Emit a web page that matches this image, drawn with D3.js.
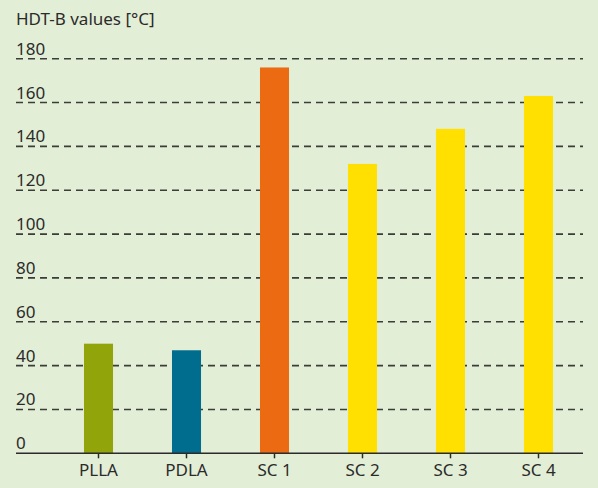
<!DOCTYPE html>
<html>
<head>
<meta charset="utf-8">
<script src="https://cdn.jsdelivr.net/npm/d3@7"></script>
<style>
  body { margin: 0; background: #e3eed6; }
  text { font-family: "Noto Sans", sans-serif; fill: #2b2b2b; }
</style>
</head>
<body>
<div id="chart"></div>
<script>
const categories = ["PLLA", "PDLA", "SC 1", "SC 2", "SC 3", "SC 4"];
const values = [50, 47, 176, 132, 148, 163];
const barColors = ["#91a409", "#006d8e", "#ec6b12", "#ffe000", "#ffe000", "#ffe000"];
const yTicks = [0, 20, 40, 60, 80, 100, 120, 140, 160, 180];
const yTitle = "HDT-B values [°C]";

const width = 598, height = 488;
const left = 16, right = 583, baseY = 453.3, topY = 58.7;

const svg = d3.select("#chart").append("svg")
    .attr("width", width)
    .attr("height", height);

svg.append("rect")
    .attr("width", width)
    .attr("height", height)
    .attr("fill", "#e3eed6");

const x = d3.scaleBand()
    .domain(categories)
    .range([54.5, 582.5])
    .paddingInner(0.67)
    .paddingOuter(0.335);

const y = d3.scaleLinear()
    .domain([0, 180])
    .range([baseY, topY]);

// gitter
svg.append("g").selectAll("line")
    .data(yTicks.filter(d => d > 0))
    .join("line")
    .attr("x1", left)
    .attr("x2", right)
    .attr("y1", d => y(d))
    .attr("y2", d => y(d))
    .attr("stroke", "#3a3d38")
    .attr("stroke-width", 1.6)
    .attr("stroke-dasharray", "7,5");

// tick labels sit above the lines
svg.append("g").selectAll("text")
    .data(yTicks)
    .join("text")
    .attr("x", left)
    .attr("y", d => y(d) - 4)
    .attr("font-size", 17)
    .text(d => d);

svg.append("text")
    .attr("x", left)
    .attr("y", 25)
    .attr("font-size", 17)
    .text(yTitle);

svg.append("g").selectAll("rect")
    .data(values)
    .join("rect")
    .attr("x", (d, i) => x(categories[i]))
    .attr("width", x.bandwidth())
    .attr("y", d => y(d))
    .attr("height", d => y(0) - y(d))
    .attr("fill", (d, i) => barColors[i]);

const xAxis = svg.append("g")
    .attr("transform", `translate(0,${baseY})`)
    .call(d3.axisBottom(x).tickSize(5).tickSizeOuter(0).tickPadding(6));
xAxis.select(".domain").remove();
xAxis.selectAll("line").attr("stroke", "#2b2b2b").attr("stroke-width", 1.5);
xAxis.selectAll("text")
    .attr("font-size", 17)
    .attr("font-family", "Noto Sans, sans-serif")
    .attr("fill", "#2b2b2b");

svg.append("line")
    .attr("x1", left)
    .attr("x2", right)
    .attr("y1", baseY)
    .attr("y2", baseY)
    .attr("stroke", "#2b2b2b")
    .attr("stroke-width", 1.6);
</script>
</body>
</html>
